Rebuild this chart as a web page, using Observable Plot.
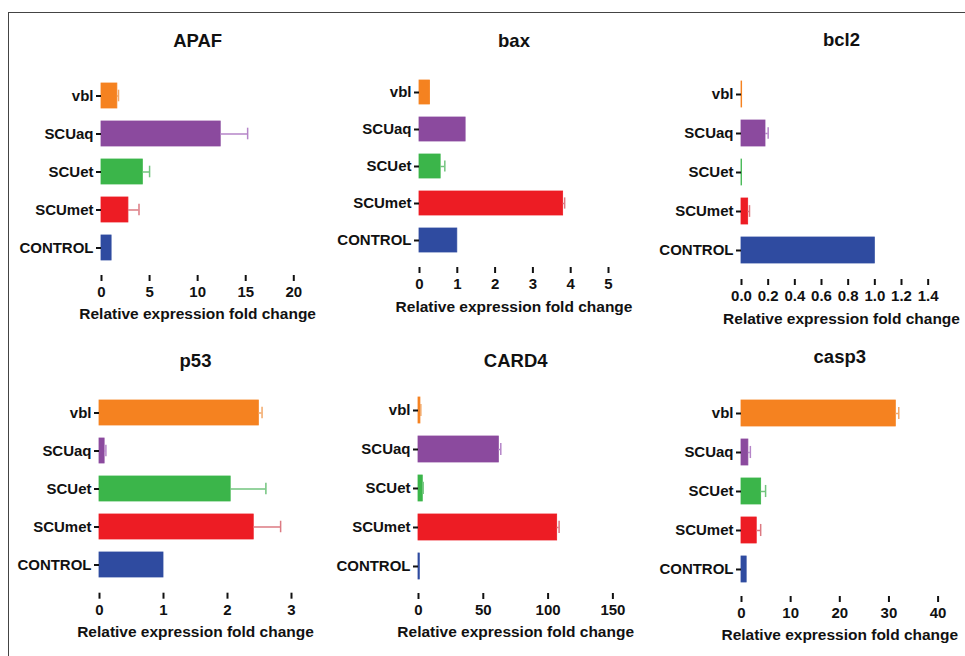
<!DOCTYPE html>
<html>
<head>
<meta charset="utf-8">
<script src="https://cdn.jsdelivr.net/npm/d3@7"></script>
<script src="https://cdn.jsdelivr.net/npm/@observablehq/plot@0.6"></script>
<style>
  body { margin: 0; background: #fff; }
  #wrap { position: relative; width: 965px; height: 656px; overflow: hidden; background: #fff; }
  #frame { position: absolute; left: 8px; top: 12px; width: 1000px; height: 700px;
           border-top: 1.5px solid #444; border-left: 1.5px solid #444; }
  .panel { position: absolute; }
</style>
</head>
<body>
<div id="wrap"><div id="frame"></div></div>
<script>
// ---- data ----
const groups = ["vbl", "SCUaq", "SCUet", "SCUmet", "CONTROL"];
const barColors = ["#f58220", "#8b4a9e", "#3bb54a", "#ed1c24", "#2f4ba0"];
const errColors = ["#f2a868", "#b585c8", "#72c47e", "#dc7a82", "#7080c4"];

const genes = ["APAF", "bax", "bcl2", "p53", "CARD4", "casp3"];

const meanAPAF  = [1.65, 12.4, 4.3, 2.8, 1.05];
const errAPAF   = [0.12, 2.8, 0.7, 1.1, 0];
const meanBax   = [0.28, 1.22, 0.56, 3.80, 1.0];
const errBax    = [0, 0, 0.11, 0.04, 0];
const meanBcl2  = [0.005, 0.18, 0.004, 0.05, 1.0];
const errBcl2   = [0, 0.02, 0, 0.01, 0];
const meanP53   = [2.49, 0.08, 2.05, 2.41, 1.0];
const errP53    = [0.05, 0.02, 0.55, 0.42, 0];
const meanCARD4 = [1.5, 62, 3.3, 107, 1.0];
const errCARD4  = [0.3, 1.5, 0.3, 1.5, 0];
const meanCasp3 = [31.4, 1.4, 4.0, 3.1, 1.05];
const errCasp3  = [0.6, 0.4, 0.9, 0.8, 0];

const means = [meanAPAF, meanBax, meanBcl2, meanP53, meanCARD4, meanCasp3];
const errs  = [errAPAF, errBax, errBcl2, errP53, errCARD4, errCasp3];

const xMax   = [20, 5, 1.5, 3, 150, 40];
const xTicks = [
  [0, 5, 10, 15, 20],
  [0, 1, 2, 3, 4, 5],
  [0, 0.2, 0.4, 0.6, 0.8, 1.0, 1.2, 1.4],
  [0, 1, 2, 3],
  [0, 50, 100, 150],
  [0, 10, 20, 30, 40]
];
const xFormats = [d3.format("d"), d3.format("d"), d3.format(".1f"), d3.format("d"), d3.format("d"), d3.format("d")];
const xLabel = "Relative expression fold change";

// ---- layout (pixel geometry of each panel) ----
const layout = [
  {axisX: 100.7, xEnd: 293,   top: 68,  bottom: 275,   titleGap: 35},
  {axisX: 418.7, xEnd: 607.7, top: 65,  bottom: 267,   titleGap: 32},
  {axisX: 741,   xEnd: 941,   top: 65,  bottom: 279,   titleGap: 33},
  {axisX: 99,    xEnd: 291,   top: 385, bottom: 592.7, titleGap: 32},
  {axisX: 418.3, xEnd: 612.7, top: 383, bottom: 593,   titleGap: 30},
  {axisX: 740.7, xEnd: 937.3, top: 385, bottom: 596,   titleGap: 36}
];
const ML = 100, MT = 50, MR = 20, MB = 60;
const padInner = 0.34, padOuter = 0.36;
const font = "'Liberation Sans', Arial, Helvetica, sans-serif";

const wrap = document.getElementById("wrap");

genes.forEach((gene, i) => {
  const L = layout[i];
  const rows = groups.map((g, j) => ({
    group: g, mean: means[i][j], err: errs[i][j],
    fill: barColors[j], errFill: errColors[j]
  }));
  const errRows = rows.filter(r => r.err > 0);
  const rangeH = L.bottom - L.top;
  const step = rangeH / (groups.length - padInner + 2 * padOuter);
  const bw = step * (1 - padInner);
  const capInset = Math.max(0, (bw - 12) / 2);

  const chart = Plot.plot({
    width: (L.xEnd - L.axisX) + ML + MR,
    height: rangeH + MT + MB,
    marginLeft: ML, marginTop: MT, marginRight: MR, marginBottom: MB,
    style: {fontFamily: font, fontSize: "15px", fontWeight: "bold", color: "#111", background: "transparent", overflow: "visible"},
    x: {domain: [0, xMax[i]]},
    y: {domain: groups, paddingInner: padInner, paddingOuter: padOuter},
    color: {type: "identity"},
    marks: [
      Plot.barX(rows, {x: "mean", y: "group", fill: "fill", stroke: "fill", strokeWidth: 0.8}),
      Plot.ruleY(errRows, {y: "group", x1: "mean", x2: d => d.mean + d.err, stroke: "errFill", strokeWidth: 1.5}),
      Plot.tickX(errRows, {x: d => d.mean + d.err, y: "group", stroke: "errFill", strokeWidth: 1.5, insetTop: capInset, insetBottom: capInset}),
      Plot.axisX({ticks: xTicks[i], tickFormat: xFormats[i], tickSize: 6, tickPadding: 5, strokeWidth: 2, line: true, label: null, fill: "#111", fontSize: 15}),
      Plot.axisY({tickSize: 5, tickPadding: 3, strokeWidth: 2, line: true, label: null, fill: "#111", fontSize: 15}),
      Plot.text([gene], {frameAnchor: "top", dy: -L.titleGap, fontSize: 18.5, fontWeight: "bold", fill: "#111"}),
      Plot.text([xLabel], {frameAnchor: "bottom", dy: 44, fontSize: 15.5, fontWeight: "bold", fill: "#111"})
    ]
  });
  chart.classList.add("panel");
  chart.style.position = "absolute";
  chart.style.left = (L.axisX - ML) + "px";
  chart.style.top = (L.top - MT) + "px";
  chart.style.maxWidth = "none";
  wrap.appendChild(chart);
});
</script>
</body>
</html>
